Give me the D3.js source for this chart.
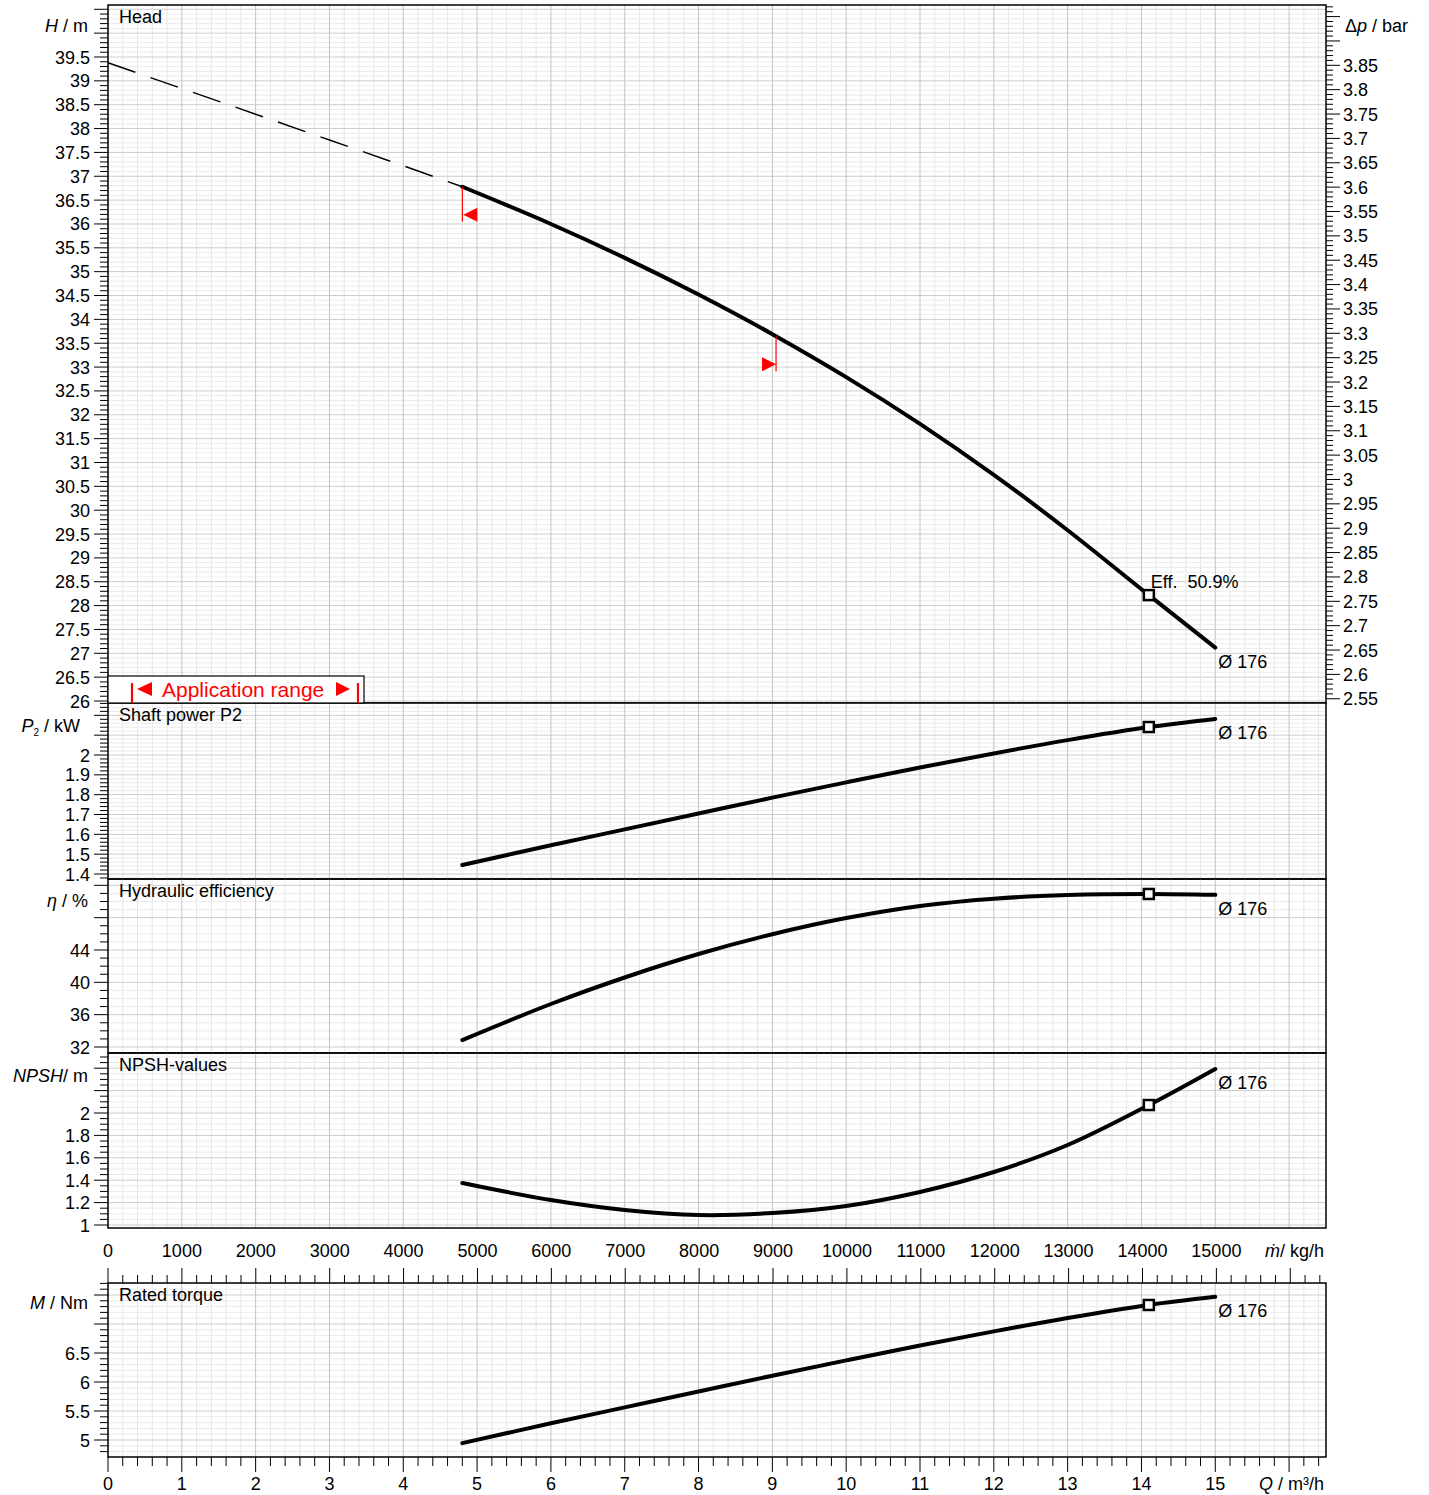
<!DOCTYPE html>
<html>
<head>
<meta charset="utf-8">
<script src="https://cdn.jsdelivr.net/npm/d3@7"></script>
<style>
body{margin:0;background:#fff;}
text{font-family:"Liberation Sans",Arial,sans-serif;font-size:18px;fill:#000;}
</style>
</head>
<body>
<svg id="chart" width="1429" height="1495"></svg>
<script>
// values (flow in m³/h)
var qDash = [0, 1, 2, 3, 4, 4.8];
var headDash = [39.38, 38.84, 38.3, 37.76, 37.22, 36.78];
var qCurve = [4.8, 6, 7, 8, 9, 10, 11, 12, 13, 14.1, 15];
var head = [36.78, 36.00, 35.29, 34.52, 33.69, 32.79, 31.81, 30.74, 29.58, 28.22, 27.12];
var shaftPower = [1.445, 1.545, 1.625, 1.705, 1.785, 1.862, 1.937, 2.008, 2.075, 2.141, 2.182];
var efficiency = [32.86, 37.32, 40.6, 43.5, 45.95, 47.95, 49.45, 50.35, 50.8, 50.93, 50.82];
var npshValues = [1.375, 1.223, 1.134, 1.089, 1.107, 1.170, 1.295, 1.473, 1.714, 2.071, 2.393];
var torque = [4.946, 5.288, 5.562, 5.836, 6.109, 6.373, 6.630, 6.873, 7.102, 7.328, 7.468];
var dutyQ = 14.1;
var dutyLabel = "Eff.  50.9%";
var impeller = "Ø 176";
var rangeQ = [4.8, 9.05];
var qLabels = d3.range(0, 16);
var massLabels = d3.range(0, 16000, 1000);

var barPerM = 0.0979;   // water, delta p per metre of head
var density = 0.999;    // t/m³

var svg = d3.select("#chart");
var X0 = 108, X1 = 1326;
var x = d3.scaleLinear().domain([0, 16.5]).range([X0, X1]);
var xm = d3.scaleLinear().domain([0, 16500 * density]).range([X0, X1]);

function steps(lo, hi, step){
    var out = [];
    for (var k = Math.ceil(lo / step - 1e-6); k <= Math.floor(hi / step + 1e-6); k++){
        out.push(+(k * step).toFixed(4));
    }
    return out;
}
function isMult(v, step){
    return Math.abs(v / step - Math.round(v / step)) < 1e-6;
}
function fmt(v){
    return String(+v.toFixed(3));
}
function interp(qs, vs, q){
    for (var i = 0; i < qs.length - 1; i++){
        if (q >= qs[i] && q <= qs[i + 1]){
            var t = (q - qs[i]) / (qs[i + 1] - qs[i]);
            return vs[i] + t * (vs[i + 1] - vs[i]);
        }
    }
    return vs[vs.length - 1];
}

var panels = [
    {id: "head", top: 5, bottom: 703, domain: [26, 39.5], range: [701, 57], major: 0.5, minor: 0.1, labelMax: 39.5,
     title: "Head", label: [["H", true], [" / m", false]], labelY: 25, values: head},
    {id: "p2", top: 703, bottom: 879, domain: [1.4, 2], range: [874, 755], major: 0.1, minor: 0.02, labelMax: 2,
     title: "Shaft power P2", label: null, labelY: 725, values: shaftPower},
    {id: "eta", top: 879, bottom: 1053, domain: [32, 44], range: [1047, 950], major: 4, minor: 1, labelMax: 44,
     title: "Hydraulic efficiency", label: [["η", true], [" / %", false]], labelY: 900, values: efficiency},
    {id: "npsh", top: 1053, bottom: 1228, domain: [1, 2], range: [1225, 1113], major: 0.2, minor: 0.05, labelMax: 2,
     title: "NPSH-values", label: [["NPSH", true], ["/ m", false]], labelY: 1075, values: npshValues},
    {id: "torque", top: 1283, bottom: 1457, domain: [5, 6.5], range: [1440, 1353], major: 0.5, minor: 0.1, labelMax: 6.5,
     title: "Rated torque", label: [["M", true], [" / Nm", false]], labelY: 1302, values: torque}
];

var line = d3.line().curve(d3.curveCatmullRom.alpha(0.5));

function drawPanel(p){
    var y = d3.scaleLinear().domain(p.domain).range(p.range);
    p.y = y;
    var g = svg.append("g").attr("id", p.id);
    var lo = y.invert(p.bottom), hi = y.invert(p.top);

    svg.append("clipPath").attr("id", "clip-" + p.id)
        .append("rect").attr("x", X0).attr("y", p.top).attr("width", X1 - X0).attr("height", p.bottom - p.top);

    var grid = g.append("g").attr("clip-path", "url(#clip-" + p.id + ")");
    var vq = steps(0, 16.5, 0.2);
    var hv = steps(lo, hi, p.minor);
    // minor grid
    grid.selectAll("line.vmin").data(vq.filter(function(d){ return !isMult(d, 1); }))
        .enter().append("line")
        .attr("x1", function(d){ return x(d); }).attr("x2", function(d){ return x(d); })
        .attr("y1", p.top).attr("y2", p.bottom)
        .attr("stroke", "#e6e6e6").attr("stroke-width", 1);
    grid.selectAll("line.hmin").data(hv.filter(function(d){ return !isMult(d, p.major); }))
        .enter().append("line")
        .attr("x1", X0).attr("x2", X1)
        .attr("y1", function(d){ return y(d); }).attr("y2", function(d){ return y(d); })
        .attr("stroke", "#ececec").attr("stroke-width", 1);
    // major grid
    grid.selectAll("line.hmaj").data(hv.filter(function(d){ return isMult(d, p.major); }))
        .enter().append("line")
        .attr("x1", X0).attr("x2", X1)
        .attr("y1", function(d){ return y(d); }).attr("y2", function(d){ return y(d); })
        .attr("stroke", "#cdcdcd").attr("stroke-width", 1);
    grid.selectAll("line.vmaj").data(vq.filter(function(d){ return isMult(d, 1); }))
        .enter().append("line")
        .attr("x1", function(d){ return x(d); }).attr("x2", function(d){ return x(d); })
        .attr("y1", p.top).attr("y2", p.bottom)
        .attr("stroke", "#c4c4c4").attr("stroke-width", 1);

    // left ticks
    g.selectAll("line.tick").data(hv).enter().append("line")
        .attr("x1", function(d){ return isMult(d, p.major) ? X0 - 14 : X0 - 8; })
        .attr("x2", X0)
        .attr("y1", function(d){ return y(d); }).attr("y2", function(d){ return y(d); })
        .attr("stroke", "#000").attr("stroke-width", 1);
    g.selectAll("text.tl").data(hv.filter(function(d){ return isMult(d, p.major) && d <= p.labelMax + 1e-6; }))
        .enter().append("text")
        .attr("x", X0 - 18).attr("y", function(d){ return y(d) + 6.5; })
        .attr("text-anchor", "end")
        .text(fmt);

    // frame
    g.append("rect").attr("x", X0).attr("y", p.top).attr("width", X1 - X0).attr("height", p.bottom - p.top)
        .attr("fill", "none").attr("stroke", "#000").attr("stroke-width", 1.5);

    g.append("text").attr("x", 119).attr("y", p.top + 18).text(p.title);

    if (p.label){
        var t = g.append("text").attr("x", 88).attr("y", p.labelY + 6.5).attr("text-anchor", "end");
        p.label.forEach(function(s){
            t.append("tspan").attr("font-style", s[1] ? "italic" : null).text(s[0]);
        });
    }

    // curve
    var pts = qCurve.map(function(q, i){ return [x(q), y(p.values[i])]; });
    var cg = g.append("g").attr("clip-path", "url(#clip-" + p.id + ")");
    cg.append("path").attr("d", line(pts))
        .attr("fill", "none").attr("stroke", "#000").attr("stroke-width", 4)
        .attr("stroke-linecap", "round").attr("stroke-linejoin", "round");

    var dv = p.values[qCurve.indexOf(dutyQ)];
    g.append("rect").attr("x", x(dutyQ) - 5).attr("y", y(dv) - 5)
        .attr("width", 10).attr("height", 10)
        .attr("fill", "#fff").attr("stroke", "#000").attr("stroke-width", 2.5);

    var last = qCurve.length - 1;
    g.append("text").attr("x", x(qCurve[last]) + 3).attr("y", y(p.values[last]) + 20).text(impeller);
    return g;
}

panels.forEach(drawPanel);

// P2 axis title with subscript
var pt = svg.append("text").attr("x", 80).attr("y", 725 + 6.5).attr("text-anchor", "end");
pt.append("tspan").attr("font-style", "italic").text("P");
pt.append("tspan").attr("font-size", "10px").attr("dy", 4).text("2");
pt.append("tspan").attr("dy", -4).text(" / kW");

// head panel extras
var hp = panels[0];
var yH = hp.y;
var hg = svg.select("#head");

hg.append("path")
    .attr("d", d3.line()(qDash.map(function(q, i){ return [x(q), yH(headDash[i])]; })))
    .attr("fill", "none").attr("stroke", "#000").attr("stroke-width", 1.4)
    .attr("stroke-dasharray", "29,16");

hg.append("text").attr("x", x(dutyQ) + 2).attr("y", yH(interp(qCurve, head, dutyQ)) - 7)
    .style("white-space", "pre").text(dutyLabel);

// preferred operating range markers
rangeQ.forEach(function(q, i){
    var cx = x(q), cy = yH(interp(qCurve, head, q));
    var bot = cy + 35;
    hg.append("line").attr("x1", cx).attr("x2", cx).attr("y1", cy).attr("y2", bot)
        .attr("stroke", "#f00").attr("stroke-width", 1.2);
    var pts = i === 0
        ? [[cx + 1, bot - 7], [cx + 15, bot - 14], [cx + 15, bot]]
        : [[cx, bot - 7], [cx - 14, bot - 14], [cx - 14, bot]];
    hg.append("polygon").attr("points", pts.map(function(d){ return d.join(","); }).join(" "))
        .attr("fill", "#f00");
});

// right delta p axis
var yP = d3.scaleLinear().domain([2.55, 3.85])
    .range([yH(2.55 / barPerM), yH(3.85 / barPerM)]);
var pv = steps(yP.invert(hp.bottom), yP.invert(hp.top), 0.01);
hg.selectAll("line.rt").data(pv).enter().append("line")
    .attr("x1", X1).attr("x2", function(d){ return isMult(d, 0.05) ? X1 + 14 : X1 + 7; })
    .attr("y1", function(d){ return yP(d); }).attr("y2", function(d){ return yP(d); })
    .attr("stroke", "#000").attr("stroke-width", 1);
hg.selectAll("text.rl").data(pv.filter(function(d){ return isMult(d, 0.05) && d <= 3.85 + 1e-6; }))
    .enter().append("text")
    .attr("x", X1 + 17).attr("y", function(d){ return yP(d) + 6.5; })
    .text(fmt);
var rt = hg.append("text").attr("x", 1345).attr("y", 25 + 6.5);
rt.append("tspan").text("Δ");
rt.append("tspan").attr("font-style", "italic").text("p");
rt.append("tspan").text(" / bar");

// application range legend
var ag = svg.append("g");
ag.append("rect").attr("x", X0).attr("y", 676).attr("width", 256).attr("height", 27)
    .attr("fill", "#fff").attr("stroke", "#000").attr("stroke-width", 1.2);
[132, 358].forEach(function(bx){
    ag.append("line").attr("x1", bx).attr("x2", bx).attr("y1", 683).attr("y2", 703)
        .attr("stroke", "#f00").attr("stroke-width", 2.2);
});
ag.append("polygon").attr("points", "137,689 152,682 152,696").attr("fill", "#f00");
ag.append("polygon").attr("points", "350,689 336,682 336,696").attr("fill", "#f00");
ag.append("text").attr("x", 162).attr("y", 697).style("font-size", "21px").style("fill", "#f00")
    .text("Application range");

// mass flow axis (between NPSH and torque panels)
var tp = panels[4];
var mv = steps(0, xm.domain()[1], 200);
svg.selectAll("line.mt").data(mv).enter().append("line")
    .attr("x1", function(d){ return xm(d); }).attr("x2", function(d){ return xm(d); })
    .attr("y1", function(d){ return isMult(d, 1000) ? tp.top - 15 : tp.top - 8; })
    .attr("y2", tp.top)
    .attr("stroke", "#000").attr("stroke-width", 1);
svg.selectAll("text.ml").data(massLabels).enter().append("text")
    .attr("x", function(d){ return xm(d); }).attr("y", 1257)
    .attr("text-anchor", "middle").text(function(d){ return d; });
var mt = svg.append("text").attr("x", 1324).attr("y", 1257).attr("text-anchor", "end");
mt.append("tspan").attr("font-style", "italic").text("ṁ");
mt.append("tspan").text("/ kg/h");

// volume flow axis at the bottom
var qv = steps(0, 16.5, 0.2);
svg.selectAll("line.qt").data(qv).enter().append("line")
    .attr("x1", function(d){ return x(d); }).attr("x2", function(d){ return x(d); })
    .attr("y1", tp.bottom)
    .attr("y2", function(d){ return isMult(d, 1) ? tp.bottom + 15 : tp.bottom + 9; })
    .attr("stroke", "#000").attr("stroke-width", 1);
svg.selectAll("text.ql").data(qLabels).enter().append("text")
    .attr("x", function(d){ return x(d); }).attr("y", 1490)
    .attr("text-anchor", "middle").text(function(d){ return d; });
var qt = svg.append("text").attr("x", 1324).attr("y", 1490).attr("text-anchor", "end");
qt.append("tspan").attr("font-style", "italic").text("Q");
qt.append("tspan").text(" / m³/h");
</script>
</body>
</html>
